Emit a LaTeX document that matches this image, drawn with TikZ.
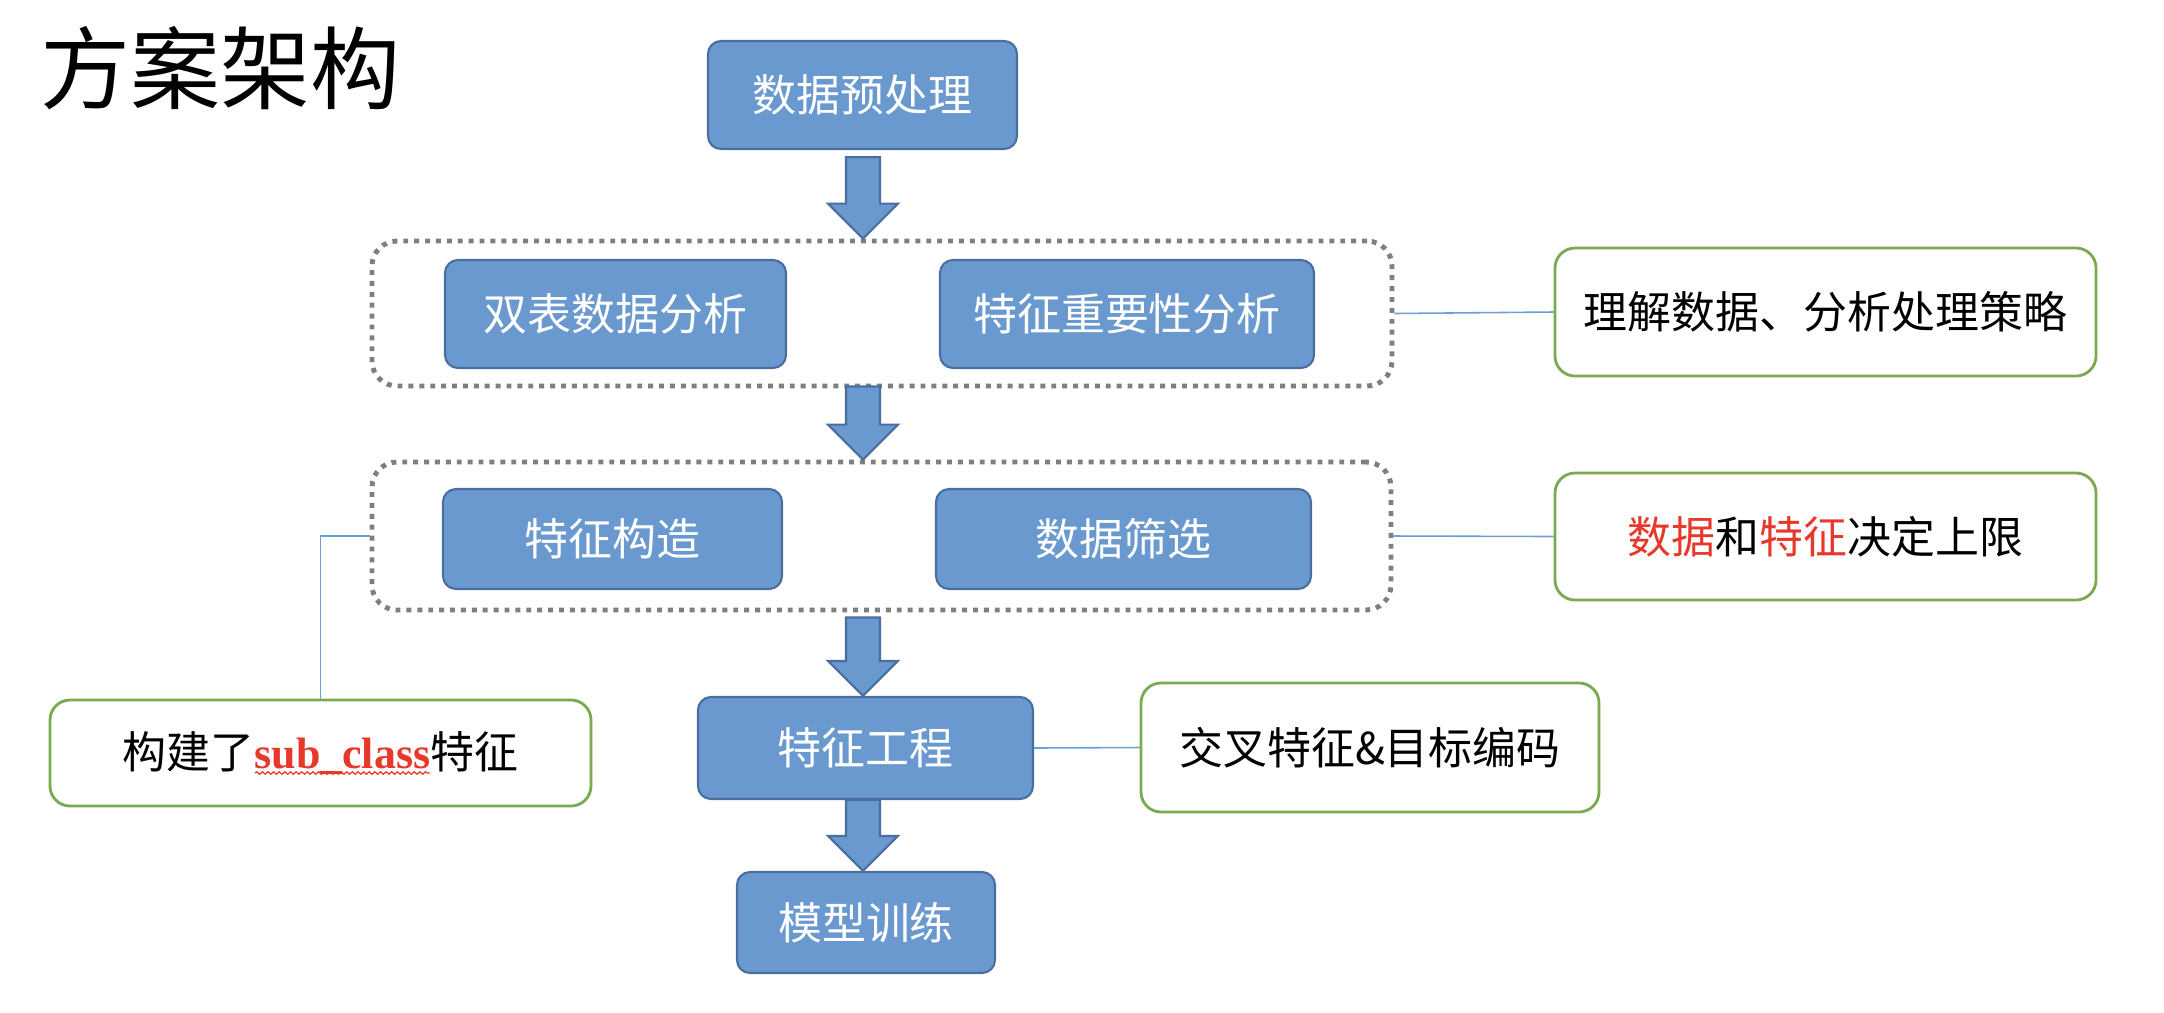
\documentclass[tikz,border=0pt]{standalone}
\usepackage{fontspec}
\setmainfont{Noto Sans CJK SC}
\newfontfamily\latinserif{Liberation Serif}
\usetikzlibrary{calc,decorations.pathmorphing}
\definecolor{stageblue}{HTML}{6A99CF}
\definecolor{stageedge}{HTML}{4A6F9F}
\definecolor{noteedge}{HTML}{7AAA50}
\definecolor{hotred}{HTML}{E8382B}
\definecolor{dotgray}{HTML}{7F7F7F}
\definecolor{linkblue}{HTML}{6A9FD8}

\tikzset{
  stage/.style={draw=stageedge, fill=stageblue, line width=0.6pt, rounded corners=0.13cm,
    text=white, font=\fontsize{12.5}{15}\selectfont, inner sep=0pt},
  note/.style={draw=noteedge, fill=white, line width=0.8pt, rounded corners=0.2cm,
    font=\fontsize{12.5}{15}\selectfont, inner sep=0pt},
  group/.style={draw=dotgray, line width=1.4pt, dash pattern=on 1.4pt off 1.7pt,
    rounded corners=0.25cm, inner sep=0pt},
  link/.style={draw=linkblue, line width=0.45pt},
  flowarrow/.style={fill=stageblue, draw=stageedge, line width=0.6pt, line join=miter},
}

% block arrow pointing down, from #1 (top of shaft) to #2 (tip)
\newcommand{\blockdown}[2]{%
  \filldraw[flowarrow] ($(#1)+(-0.17,0)$) -- ($(#1)+(0.17,0)$) -- ($(#2)+(0.17,0.35)$)
    -- ($(#2)+(0.35,0.35)$) -- (#2) -- ($(#2)+(-0.35,0.35)$) -- ($(#2)+(-0.17,0.35)$) -- cycle;}

\begin{document}
\begin{tikzpicture}
\useasboundingbox (0,0) rectangle (21.64,-10.12);

\node[anchor=west, inner sep=0pt, font=\fontsize{25.6}{30}\selectfont] (title) at (0.40,-0.68) {方案架构};

% dotted groups
\node[group, minimum width=10.20cm, minimum height=1.45cm] (grpA) at (8.82,-3.135) {};
\node[group, minimum width=10.19cm, minimum height=1.48cm] (grpB) at (8.815,-5.36) {};

% main flow
\node[stage, minimum width=3.09cm, minimum height=1.08cm] (prep) at (8.625,-0.95) {数据预处理};
\node[stage, minimum width=3.41cm, minimum height=1.08cm] (dual) at (6.155,-3.14) {双表数据分析};
\node[stage, minimum width=3.74cm, minimum height=1.08cm] (imp) at (11.27,-3.14) {特征重要性分析};
\node[stage, minimum width=3.39cm, minimum height=1.00cm] (build) at (6.125,-5.39) {特征构造};
\node[stage, minimum width=3.75cm, minimum height=1.00cm] (filter) at (11.235,-5.39) {数据筛选};
\node[stage, minimum width=3.35cm, minimum height=1.02cm] (eng) at (8.655,-7.48) {特征工程};
\node[stage, minimum width=2.58cm, minimum height=1.01cm] (train) at (8.66,-9.225) {模型训练};

\coordinate (spine) at (8.63,0);
\path (prep.south -| spine) ++(0,-0.07) coordinate (a1t)
      (grpA.north -| spine) coordinate (a1b)
      (grpA.south -| spine) ++(0,0.02) coordinate (a2t)
      (grpB.north -| spine) coordinate (a2b)
      (grpB.south -| spine) ++(0,-0.05) coordinate (a3t)
      (eng.north -| spine) coordinate (a3b)
      (eng.south -| spine) coordinate (a4t)
      (train.north -| spine) coordinate (a4b);
\blockdown{a1t}{a1b}
\blockdown{a2t}{a2b}
\blockdown{a3t}{a3b}
\blockdown{a4t}{a4b}

% side notes
\node[note, minimum width=5.41cm, minimum height=1.28cm] (noteA) at (18.255,-3.12) {理解数据、分析处理策略};
\node[note, minimum width=5.41cm, minimum height=1.27cm] (noteB) at (18.255,-5.365)
  {{\color{hotred}数据}和{\color{hotred}特征}决定上限};
\node[note, minimum width=4.58cm, minimum height=1.29cm] (noteC) at (13.70,-7.475) {交叉特征\&目标编码};
\node[note, minimum width=5.41cm, minimum height=1.06cm] (noteD) at (3.205,-7.53)
  {构建了{\latinserif\bfseries\color{hotred}sub\_class}特征};
\draw[hotred, line width=0.35pt, decorate, decoration={snake, amplitude=0.35pt, segment length=1.6pt}]
  ($(noteD.center)+(-0.655,-0.2)$) -- ($(noteD.center)+(1.095,-0.2)$);

\draw[link] (grpA.east) -- (noteA.west);
\draw[link] (grpB.east) -- (noteB.west);
\draw[link] (eng.east) -- (noteC.west);
\draw[link] (grpB.west) -| (noteD.north);
\end{tikzpicture}
\end{document}
